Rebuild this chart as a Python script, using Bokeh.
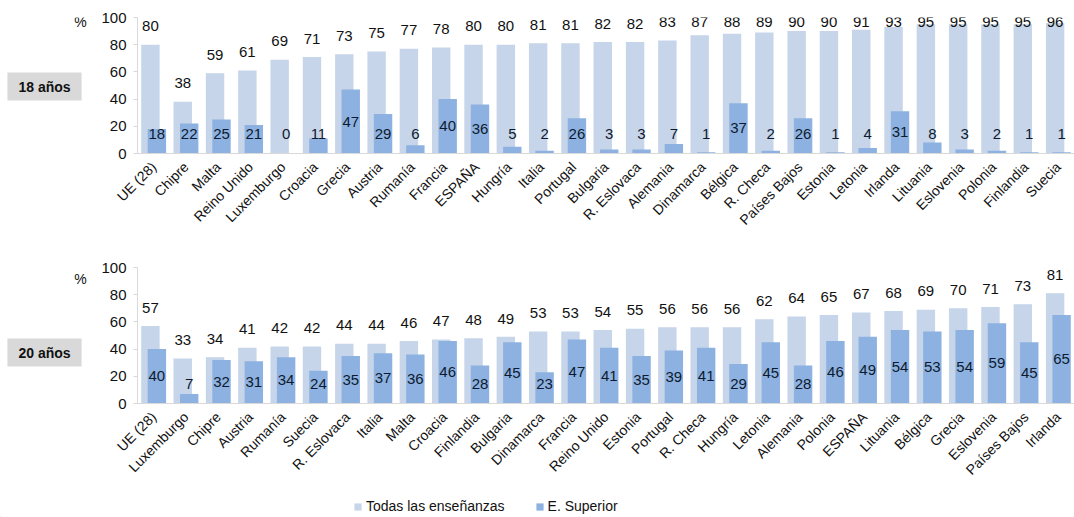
import numpy as np
from bokeh.plotting import figure
from bokeh.models import (ColumnDataSource, LabelSet, Label, Range1d, FixedTicker,
                          Legend, LegendItem)
from bokeh.layouts import column, row
from bokeh.core.properties import value
from bokeh.embed import file_html
from bokeh.resources import INLINE

# ---------------- data ----------------
names18 = ["UE (28)", "Chipre", "Malta", "Reino Unido", "Luxemburgo", "Croacia", "Grecia",
           "Austria", "Rumanía", "Francia", "ESPAÑA", "Hungría", "Italia", "Portugal",
           "Bulgaria", "R. Eslovaca", "Alemania", "Dinamarca", "Bélgica", "R. Checa",
           "Países Bajos", "Estonia", "Letonia", "Irlanda", "Lituania", "Eslovenia",
           "Polonia", "Finlandia", "Suecia"]
todas18 = [80, 38, 59, 61, 69, 71, 73, 75, 77, 78, 80, 80, 81, 81, 82, 82, 83, 87, 88, 89,
           90, 90, 91, 93, 95, 95, 95, 95, 96]
sup18 = [18, 22, 25, 21, 0, 11, 47, 29, 6, 40, 36, 5, 2, 26, 3, 3, 7, 1, 37, 2,
         26, 1, 4, 31, 8, 3, 2, 1, 1]

names20 = ["UE (28)", "Luxemburgo", "Chipre", "Austria", "Rumanía", "Suecia", "R. Eslovaca",
           "Italia", "Malta", "Croacia", "Finlandia", "Bulgaria", "Dinamarca", "Francia",
           "Reino Unido", "Estonia", "Portugal", "R. Checa", "Hungría", "Letonia", "Alemania",
           "Polonia", "ESPAÑA", "Lituania", "Bélgica", "Grecia", "Eslovenia", "Países Bajos",
           "Irlanda"]
todas20 = [57, 33, 34, 41, 42, 42, 44, 44, 46, 47, 48, 49, 53, 53, 54, 55, 56, 56, 56, 62,
           64, 65, 67, 68, 69, 70, 71, 73, 81]
sup20 = [40, 7, 32, 31, 34, 24, 35, 37, 36, 46, 28, 45, 23, 47, 41, 35, 39, 41, 29, 45,
         28, 46, 49, 54, 53, 54, 59, 45, 65]

yticks = [0, 20, 40, 60, 80, 100]
series_names = ["Todas las enseñanzas", "E. Superior"]

# ---------------- style ----------------
FONT = "Liberation Sans"
LIGHT = "#c6d5e9"
DARK = "#8db2e1"
AXIS = "#d9d9d9"
TXT = "#111111"
TAGW = 90
FRAME_H = 136


def blank(width, height, yr):
    f = figure(width=width, height=height, x_range=Range1d(0, width),
               y_range=Range1d(0, yr), output_backend="svg", toolbar_location=None,
               min_border=0, min_border_left=0, min_border_right=0, min_border_top=0,
               min_border_bottom=0)
    f.axis.visible = False
    f.grid.visible = False
    f.outline_line_color = None
    return f


def tag_fig(height, tag, tag_y, pct_y):
    # the row aligns this frame with the chart's frame (height FRAME_H)
    f = blank(TAGW, height, FRAME_H)
    f.add_layout(Label(x=44, y=tag_y, text=tag, text_font=FONT, text_font_size="14px",
                       text_font_style="bold", text_align="center", text_baseline="middle",
                       text_color=TXT, background_fill_color="#d9d9d9",
                       padding=dict(left=11, right=11, top=6, bottom=6)))
    f.add_layout(Label(x=80, y=pct_y, text="%", text_font=FONT, text_font_size="14px",
                       text_align="center", text_baseline="middle", text_color=TXT))
    return f


def panel(names, todas, sup, height, top_border):
    n = len(names)
    idx = np.arange(n)
    t = np.array(todas, dtype=float)
    s = np.array(sup, dtype=float)
    src = ColumnDataSource(dict(
        xl=idx - 0.1, xd=idx + 0.1, todas=t, sup=s,
        ly=np.minimum(t + 13.5, 96.5), dy=np.maximum(s / 2.0, 14.0),
        lt=[str(v) for v in todas], dt=[str(v) for v in sup]))

    p = figure(width=1074 - TAGW, height=height, x_range=Range1d(-0.5, n - 0.5),
               y_range=Range1d(0, 100), output_backend="svg", toolbar_location=None,
               min_border_left=137 - TAGW, min_border_right=0, min_border_top=top_border,
               min_border_bottom=height - top_border - FRAME_H)
    p.outline_line_color = None
    p.xgrid.visible = False
    p.ygrid.visible = False

    p.vbar(x="xl", top="todas", width=0.57, source=src, fill_color=LIGHT, line_color=None)
    p.vbar(x="xd", top="sup", width=0.57, source=src, fill_color=DARK, line_color=None)

    p.add_layout(LabelSet(x="xl", y="ly", text="lt", source=src, text_align="center",
                          text_baseline="middle", text_font_size="15px",
                          text_font=value(FONT), text_color=TXT))
    p.add_layout(LabelSet(x="xd", y="dy", text="dt", source=src, text_align="center",
                          text_baseline="middle", text_font_size="15px",
                          text_font=value(FONT), text_color="#0d1a2e"))

    xa = p.xaxis[0]
    xa.ticker = FixedTicker(ticks=list(range(n)))
    xa.major_label_overrides = {i: nm for i, nm in enumerate(names)}
    xa.major_label_orientation = np.pi / 4
    xa.major_label_text_font = FONT
    xa.major_label_text_font_size = "14px"
    xa.major_label_text_color = TXT
    xa.major_label_standoff = 5
    xa.axis_line_color = AXIS
    xa.major_tick_line_color = None
    xa.minor_tick_line_color = None

    ya = p.yaxis[0]
    ya.ticker = FixedTicker(ticks=yticks)
    ya.major_label_text_font = FONT
    ya.major_label_text_font_size = "15px"
    ya.major_label_text_color = TXT
    ya.major_label_standoff = 7
    ya.axis_line_color = AXIS
    ya.major_tick_line_color = AXIS
    ya.major_tick_in = 0
    ya.major_tick_out = 4
    ya.minor_tick_line_color = None
    return p


H1, H2, HL = 248, 245, 24
p1 = panel(names18, todas18, sup18, H1, 17)
t1 = tag_fig(H1, "18 años", 153 - 86, 153 - 21)
p2 = panel(names20, todas20, sup20, H2, 19)
t2 = tag_fig(H2, "20 años", 403 - 352, 403 - 278)

# legend strip (swatch renderers sit outside the visible range)
lf = blank(1074, HL, HL)
lsrc = ColumnDataSource(dict(x=[-50], top=[1]))
lr1 = lf.vbar(x="x", top="top", width=1, source=lsrc, fill_color=LIGHT, line_color=None)
lr2 = lf.vbar(x="x", top="top", width=1, source=lsrc, fill_color=DARK, line_color=None)
leg = Legend(items=[LegendItem(label=series_names[0], renderers=[lr1]),
                    LegendItem(label=series_names[1], renderers=[lr2])],
             location=(353, 3), orientation="horizontal",
             glyph_width=9, glyph_height=9, label_standoff=4, label_height=14,
             label_text_font=FONT, label_text_font_size="14px",
             label_text_color=TXT, spacing=30, padding=0, margin=0,
             border_line_color=None, background_fill_alpha=0)
lf.add_layout(leg, "center")

layout = column(row(t1, p1, spacing=0), row(t2, p2, spacing=0), lf, spacing=0)
open("out.html", "w").write(file_html(layout, INLINE))
